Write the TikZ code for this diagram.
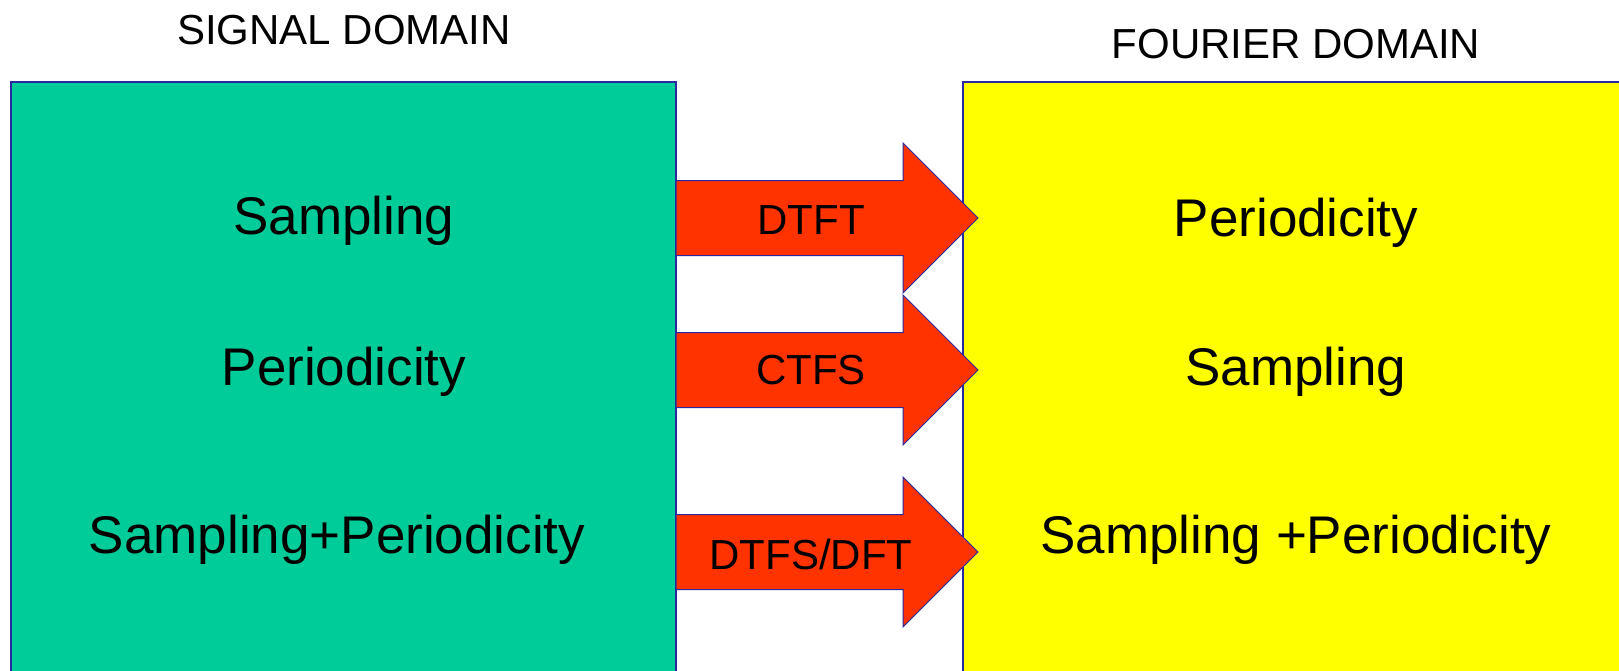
\documentclass[tikz,border=0pt]{standalone}
\usepackage{fontspec}
\setmainfont{Liberation Sans}
\definecolor{sigfill}{RGB}{0,204,153}
\definecolor{fourfill}{RGB}{255,255,0}
\definecolor{arrfill}{RGB}{255,51,0}
\definecolor{edge}{RGB}{40,40,160}
\tikzset{
  domainbox/.style={fill=#1, draw=edge, line width=1.3pt},
  blockarrow/.style={fill=arrfill, draw=edge, line width=1pt, line join=miter},
  bigtext/.style={font=\fontsize{53}{60}\selectfont, inner sep=0pt},
  headtext/.style={font=\fontsize{42}{48}\selectfont, inner sep=0pt},
  arrtext/.style={font=\fontsize{42}{48}\selectfont, inner sep=0pt},
}
\begin{document}
\begin{tikzpicture}[x=1pt,y=-1pt]
\useasboundingbox (0,0) rectangle (1619,670);
\begin{scope}
\clip (0,0) rectangle (1619,670);
\draw[domainbox=sigfill] (11,82) rectangle (676,690);
\draw[domainbox=fourfill] (963,82) rectangle (1640,690);
\coordinate (sigE) at (676,0);
\coordinate (fouW) at (963,0);
% arrows
\foreach \yc/\nm in {218/a1, 370/a2, 552/a3}{
  \draw[blockarrow] (676,\yc-37.5) -- (903,\yc-37.5) -- (903,\yc-75) -- (978,\yc)
     -- (903,\yc+75) -- (903,\yc+37.5) -- (676,\yc+37.5) -- cycle;
}
\end{scope}
\node[headtext] (sighead) at (344,30) {SIGNAL DOMAIN};
\node[headtext] (fouhead) at (1296,44) {FOURIER DOMAIN};
\node[bigtext] (s1) at (344,221) {Sampling};
\node[bigtext] (s2) at (344,372) {Periodicity};
\node[bigtext] (s3) at (337,540) {Sampling+Periodicity};
\node[bigtext] (f1) at (1296,223) {Periodicity};
\node[bigtext] (f2) at (1296,372) {Sampling};
\node[bigtext] (f3) at (1296,540) {Sampling +Periodicity};
\node[arrtext] (t1) at (811,220) {DTFT};
\node[arrtext] (t2) at (811,370) {CTFS};
\node[arrtext] (t3) at (811,554) {DTFS/DFT};
\end{tikzpicture}
\end{document}
